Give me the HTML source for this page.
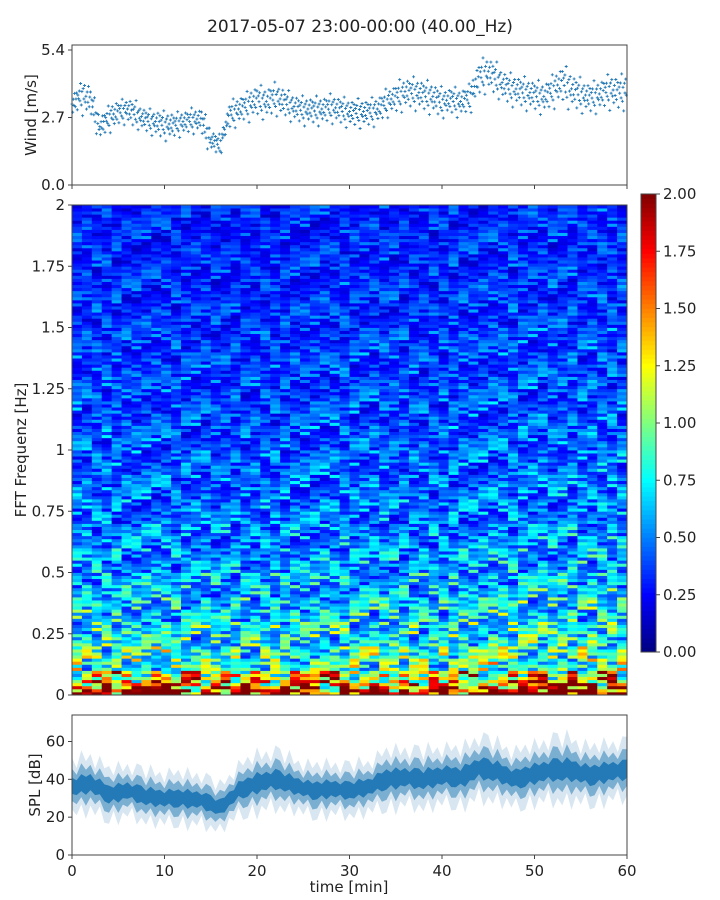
<!DOCTYPE html>
<html><head><meta charset="utf-8"><style>
body{margin:0;background:#fff;}
svg{display:block;font-family:"DejaVu Sans","Liberation Sans",sans-serif;}
</style></head><body>
<svg id="fig" width="720" height="900" viewBox="0 0 720 900">
<text x="360" y="32" text-anchor="middle" font-size="17" fill="#222">2017-05-07 23:00-00:00 (40.00_Hz)</text>
<g id="wind"></g>
<g id="spec"></g>
<g id="cbar"></g>
<g id="spl"></g>
</svg>
<script>
// ---- data ----
const timeTicks = [0,10,20,30,40,50,60];
const windTicks = [0.0,2.7,5.4];
const windTickLabels = ["0.0","2.7","5.4"];
const windMean = [3.2,3.6,3.4,2.3,2.7,2.9,3.0,2.8,2.6,2.5,2.4,2.4,2.5,2.6,2.6,1.8,1.6,2.8,3.0,3.2,3.4,3.3,3.5,3.3,3.1,3.0,3.0,3.0,3.1,3.0,2.9,2.9,2.9,3.0,3.3,3.5,3.7,3.7,3.6,3.5,3.3,3.4,3.3,3.5,4.3,4.5,4.2,3.9,3.8,3.7,3.6,3.5,3.8,4.1,3.8,3.6,3.5,3.6,3.8,3.7,3.8];
const windSpread = [0.35,0.5,0.4,0.35,0.4,0.35,0.4,0.35,0.35,0.4,0.4,0.35,0.35,0.35,0.4,0.3,0.3,0.4,0.4,0.45,0.45,0.45,0.45,0.4,0.4,0.4,0.4,0.4,0.4,0.4,0.4,0.4,0.4,0.4,0.4,0.45,0.45,0.45,0.45,0.45,0.4,0.4,0.4,0.45,0.5,0.5,0.45,0.45,0.45,0.45,0.45,0.45,0.5,0.55,0.5,0.45,0.45,0.45,0.5,0.5,0.5];
const windJitter = [0.1,-0.9,0.5,-0.3,1.0,-0.6,0.2,0.8,-1.2,0.4,-0.1,0.7,-0.5,1.4,-0.8,0.3,-1.6,0.6,-0.2,0.9,-0.4];
const splTime = [0,2,4,6,8,10,12,14,16,18,20,22,24,26,28,30,32,34,36,38,40,42,44,46,48,50,52,54,56,58,60];
const splMean = [36,38,32,34,31,30,30,29,25,34,38,40,37,34,35,34,36,40,41,40,42,41,46,44,40,43,45,45,42,44,45];
const splSpread = [8,9,8,8,8,8,8,8,7,8,9,9,8,8,8,8,8,9,9,9,9,9,10,9,9,9,10,10,9,9,9];
const splWiggle = [0.6,-0.8,1.0,-0.4,0.2,-1.0,0.8,-0.2,0.5,-0.7,0.9,-0.5,0.3,-0.9,0.7];
const splTicks = [0,20,40,60];
const freqTicks = [0,0.25,0.5,0.75,1,1.25,1.5,1.75,2];
const freqTickLabels = ["0","0.25","0.5","0.75","1","1.25","1.5","1.75","2"];
const freqProfile = [1.3,0.9,0.78,0.7,0.64,0.58,0.54,0.5,0.48,0.46,0.44,0.42,0.41,0.4,0.39,0.37,0.36,0.35,0.34,0.34];
const timeLevel = [1.0,0.98,0.97,0.95,0.97,1.0,1.0,0.98,1.02,1.05,1.05,1.07];
const rowPattern = [1.0,0.6,1.3,0.85,1.15,0.55,1.4,0.9,0.7,1.25,1.05,0.65,1.2,0.5,1.1,0.8,1.35];
const colPattern = [1.0,0.8,1.2,0.9,1.1,0.75,1.15];
const colShift = [0,7,3,11,5,14,2,9,16,4,12,1,8,15,6,13,10];
const cbarTicks = [0,0.25,0.5,0.75,1,1.25,1.5,1.75,2];
const cbarTickLabels = ["0.00","0.25","0.50","0.75","1.00","1.25","1.50","1.75","2.00"];
const lowBoost = [1.0,0.7,0.45,0.3,0.2];

const NS="http://www.w3.org/2000/svg";
function mk(tag,attrs,parent){const e=document.createElementNS(NS,tag);for(const k in attrs)e.setAttribute(k,attrs[k]);parent.appendChild(e);return e;}
const X0=72,X1=627;
const xS=t=>X0+(t/60)*(X1-X0);
const wY=v=>185-v*25;
const fY=f=>695-(f/2)*490;
const sY=v=>855-v*(140/74);
const cY=v=>652-(v/2)*(652-194);
function jet(v){v=Math.max(0,Math.min(1,v));
 const r=Math.max(0,Math.min(1,1.5-Math.abs(4*v-3))),g=Math.max(0,Math.min(1,1.5-Math.abs(4*v-2))),b=Math.max(0,Math.min(1,1.5-Math.abs(4*v-1)));
 return `rgb(${Math.round(r*255)},${Math.round(g*255)},${Math.round(b*255)})`;}
const FS=15;

// ---- wind panel ----
const W=document.getElementById('wind');
let pts=[];
for(let i=0;i<60;i++){for(let k=0;k<14;k++){const t=i+k/14;const m=windMean[i]+(windMean[i+1]-windMean[i])*k/14;
 const s=windSpread[i]*windJitter[(i*14+k)%windJitter.length];pts.push([t,m+s]);}}
let d='';
pts.forEach(p=>{const x=xS(p[0]),y=wY(p[1]);d+=`M${(x-1.5).toFixed(1)} ${y.toFixed(1)}h3M${x.toFixed(1)} ${(y-1.5).toFixed(1)}v3`;});
const wp=mk('path',{d:d,stroke:'#1f77b4','stroke-width':'0.9',fill:'none'},W);


const wf=mk('rect',{x:X0,y:45,width:X1-X0,height:140,fill:'none',stroke:'#444','stroke-width':1},W);


windTicks.forEach((v,i)=>{mk('line',{x1:X0-4,x2:X0,y1:wY(v),y2:wY(v),stroke:'#444'},W);
 const t=mk('text',{x:X0-7,y:wY(v)+5,'text-anchor':'end','font-size':FS,fill:'#222'},W);t.textContent=windTickLabels[i];
 
 });
timeTicks.forEach(v=>mk('line',{x1:xS(v),x2:xS(v),y1:185,y2:189,stroke:'#444'},W));
const wl=mk('text',{transform:'translate(36,115) rotate(-90)','text-anchor':'middle','font-size':FS,fill:'#222'},W);wl.textContent='Wind [m/s]';



// ---- spectrogram ----
const S=document.getElementById('spec');
const NC=56,NR=160;
const cw=(X1-X0)/NC,rh=490/NR;
for(let c=0;c<NC;c++){const tl=timeLevel[Math.min(11,Math.floor(c*12/NC))];
 for(let r=0;r<NR;r++){const f=(r+0.5)*2/NR;let base=freqProfile[Math.min(19,Math.floor(f*10))];
  if(r<lowBoost.length)base+=lowBoost[r];
  const v=base*tl*rowPattern[(r*5+colShift[c%17]+Math.floor(c/17)*4)%17]*colPattern[(c*3+(r>>2))%7];
  mk('rect',{x:(X0+c*cw).toFixed(2),y:(695-(r+1)*rh).toFixed(2),width:(cw+0.4).toFixed(2),height:(rh+0.4).toFixed(2),fill:jet(v/2)},S);
 }}
const sf=mk('rect',{x:X0,y:205,width:X1-X0,height:490,fill:'none',stroke:'#444'},S);


freqTicks.forEach((v,i)=>{mk('line',{x1:X0-4,x2:X0,y1:fY(v),y2:fY(v),stroke:'#444'},S);
 const t=mk('text',{x:X0-7,y:fY(v)+5,'text-anchor':'end','font-size':FS,fill:'#222'},S);t.textContent=freqTickLabels[i];
 
 });
const sl=mk('text',{transform:'translate(26,450) rotate(-90)','text-anchor':'middle','font-size':FS,fill:'#222'},S);sl.textContent='FFT Frequenz [Hz]';



// ---- colorbar ----
const C=document.getElementById('cbar');
for(let i=0;i<100;i++){const v0=i/100*2;mk('rect',{x:641,y:cY(v0+0.02)-0.3,width:15,height:(652-194)/100+0.6,fill:jet(v0/2+0.005)},C);}
mk('rect',{x:641,y:194,width:15,height:458,fill:'none',stroke:'#444'},C);
cbarTicks.forEach((v,i)=>{mk('line',{x1:656,x2:660,y1:cY(v),y2:cY(v),stroke:'#444'},C);
 const t=mk('text',{x:663,y:cY(v)+5,'font-size':FS,fill:'#222'},C);t.textContent=cbarTickLabels[i];
 
 });

// ---- SPL panel ----
const P=document.getElementById('spl');
function band(k,op,name){let top='',bot='';const n=120;
 const val=(t,sign)=>{const i=Math.min(29,Math.floor(t/2)),fr=(t-splTime[i])/2;
  const m=splMean[i]+(splMean[i+1]-splMean[i])*fr,s=splSpread[i]+(splSpread[i+1]-splSpread[i])*fr;
  const w=splWiggle[Math.round(t*2+(sign>0?0:7))%splWiggle.length];return m+sign*s*k*(1+0.35*w);};
 for(let j=0;j<=n;j++){const t=j*60/n;top+=(j?'L':'M')+xS(t).toFixed(1)+' '+sY(val(t,1)).toFixed(1);}
 for(let j=n;j>=0;j--){const t=j*60/n;bot+='L'+xS(t).toFixed(1)+' '+sY(val(t,-1)).toFixed(1);}
 const e=mk('path',{d:top+bot+'Z',fill:'#1f77b4','fill-opacity':op},P);
 
 }
band(1.6,0.18,'spl-outer-band');band(1.0,0.5,'spl-mid-band');band(0.5,0.95,'spl-inner-band');
const pf=mk('rect',{x:X0,y:715,width:X1-X0,height:140,fill:'none',stroke:'#444'},P);


splTicks.forEach(v=>{mk('line',{x1:X0-4,x2:X0,y1:sY(v),y2:sY(v),stroke:'#444'},P);
 const t=mk('text',{x:X0-7,y:sY(v)+5,'text-anchor':'end','font-size':FS,fill:'#222'},P);t.textContent=v;
 
 });
timeTicks.forEach(v=>{mk('line',{x1:xS(v),x2:xS(v),y1:855,y2:859,stroke:'#444'},P);
 const t=mk('text',{x:xS(v),y:876,'text-anchor':'middle','font-size':FS,fill:'#222'},P);t.textContent=v;
 
 });
const pl=mk('text',{transform:'translate(40,785) rotate(-90)','text-anchor':'middle','font-size':FS,fill:'#222'},P);pl.textContent='SPL [dB]';


const xl=mk('text',{x:349,y:892,'text-anchor':'middle','font-size':FS,fill:'#222'},P);xl.textContent='time [min]';


</script>
</body></html>
